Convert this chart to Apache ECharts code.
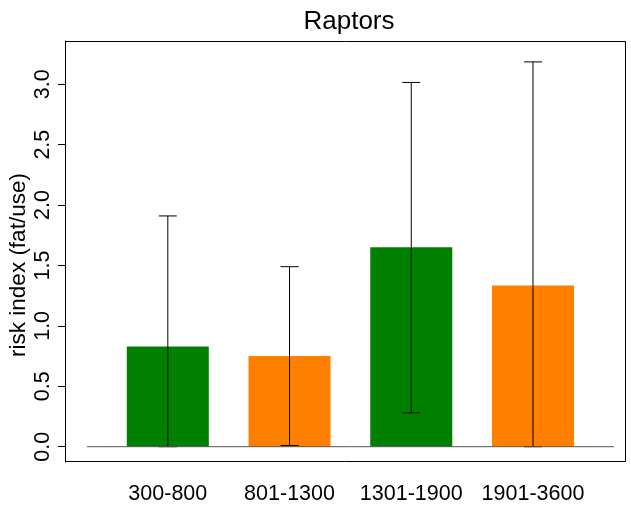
<!DOCTYPE html>
<html><head><meta charset="utf-8">
<script src="https://cdn.jsdelivr.net/npm/echarts@6/dist/echarts.min.js"></script>
<style>html,body{margin:0;padding:0;background:#fff}#c{width:631px;height:508px}</style>
</head><body><div id="c"></div>
<script>
const categories = ['300-800', '801-1300', '1301-1900', '1901-3600'];
const riskIndex = [0.83, 0.75, 1.65, 1.335];
const errLower = [0.0, 0.01, 0.28, 0.0];
const errUpper = [1.91, 1.49, 3.015, 3.185];
const barColors = ['#008000', '#FF7F00', '#008000', '#FF7F00'];
const yTickValues = [0, 0.5, 1, 1.5, 2, 2.5, 3];
const titleText = 'Raptors';
const yName = 'risk index (fat/use)';

const FONT = '"Liberation Sans", Arial, Helvetica, sans-serif';
const chart = echarts.init(document.getElementById('c'), null, {renderer: 'canvas'});

const option = {
  animation: false,
  backgroundColor: '#fff',
  grid: {left: 106.95, right: 37.15, top: 41, bottom: 46, containLabel: false},
  xAxis: {
    type: 'category',
    data: categories,
    axisLine: {show: false},
    axisTick: {show: false},
    axisLabel: {color: '#000', fontSize: 21.5, fontFamily: FONT, margin: 21, interval: 0, hideOverlap: false}
  },
  yAxis: {
    type: 'value',
    min: -0.1267,
    max: 3.358,
    offset: 41.95,
    splitLine: {show: false},
    axisLine: {show: true, lineStyle: {color: '#000', width: 1}},
    axisTick: {show: true, length: 7, customValues: yTickValues, lineStyle: {color: '#000'}},
    axisLabel: {
      show: true, customValues: yTickValues, rotate: 90, color: '#000',
      fontSize: 21.5, fontFamily: FONT, margin: 11,
      formatter: v => Number(v).toFixed(1)
    }
  },
  graphic: [
    {type: 'rect', silent: true, shape: {x: 65.5, y: 41.5, width: 560, height: 420},
     style: {fill: 'none', stroke: '#000', lineWidth: 1}, z: 10},
    {type: 'text', x: 349, y: 22, silent: true,
     style: {text: titleText, font: '26px ' + FONT, fill: '#000', textAlign: 'center', textVerticalAlign: 'middle'}},
    {type: 'text', x: 19, y: 265, rotation: Math.PI / 2, silent: true,
     style: {text: yName, font: '22.5px ' + FONT, fill: '#000', textAlign: 'center', textVerticalAlign: 'middle'}}
  ],
  series: [
    {
      type: 'bar',
      barWidth: 82,
      data: riskIndex.map((v, i) => ({value: v, itemStyle: {color: barColors[i]}})),
      z: 2
    },
    {
      type: 'custom',
      z: 5,
      data: categories.map((c, i) => [i, errLower[i], errUpper[i]]),
      encode: {x: 0, y: [1, 2]},
      renderItem: function (params, api) {
        const i = api.value(0);
        const lo = api.coord([i, api.value(1)]);
        const hi = api.coord([i, api.value(2)]);
        const hw = 9;
        const st = {stroke: '#000', lineWidth: 1};
        return {type: 'group', children: [
          {type: 'line', shape: {x1: lo[0], y1: lo[1], x2: hi[0], y2: hi[1]}, style: st},
          {type: 'line', shape: {x1: lo[0] - hw, y1: lo[1], x2: lo[0] + hw, y2: lo[1]}, style: st},
          {type: 'line', shape: {x1: hi[0] - hw, y1: hi[1], x2: hi[0] + hw, y2: hi[1]}, style: st}
        ]};
      }
    }
  ]
};
chart.setOption(option);

// baseline at y = 0 spanning the bar region
const y0 = chart.convertToPixel({yAxisIndex: 0}, 0);
const g = option.graphic.slice();
g.push({type: 'line', silent: true, z: 8,
  shape: {x1: 87, y1: y0, x2: 614, y2: y0},
  style: {stroke: '#555', lineWidth: 1}});
chart.setOption({graphic: g});
</script>
</body></html>
